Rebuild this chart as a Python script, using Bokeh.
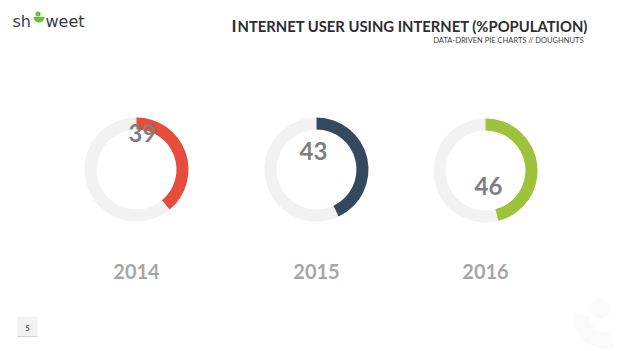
import math
from bokeh.plotting import figure
from bokeh.models import Range1d
from bokeh.core.properties import value
from bokeh.embed import file_html
from bokeh.resources import INLINE

# ---- data ----
years = ["2014", "2015", "2016"]
shares = [39, 43, 46]
colors = ["#e74c3c", "#34495e", "#9dc23b"]
title_text = "INTERNET USER USING INTERNET (%POPULATION)"
subtitle_text = "DATA-DRIVEN PIE CHARTS // DOUGHNUTS"
page_label = "5"

# ---- layout ----
W, H = 624, 351
def Y(py):
    return H - py

cx = [136, 316, 485]
cy = [Y(169), Y(169), Y(170)]
lbl_x = [142, 313, 488]
lbl_y = [Y(132), Y(150), Y(185)]
year_y = Y(271)
R_OUT, R_IN = 52, 40

p = figure(width=W, height=H, x_range=Range1d(0, W), y_range=Range1d(0, H),
           output_backend="svg", toolbar_location=None, min_border=0)
p.axis.visible = False
p.grid.visible = False
p.outline_line_color = None
p.background_fill_color = "white"
p.border_fill_color = "white"

# background rings
p.annulus(x=cx, y=cy, inner_radius=R_IN, outer_radius=R_OUT,
          fill_color="#f2f2f2", line_color=None)
# value arcs (clockwise from top)
start = [math.pi / 2] * len(shares)
end = [math.pi / 2 - 2 * math.pi * v / 100 for v in shares]
p.annular_wedge(x=cx, y=cy, inner_radius=R_IN, outer_radius=R_OUT,
                start_angle=start, end_angle=end, direction="clock",
                fill_color=colors, line_color=None)

# value labels
p.text(x=lbl_x, y=lbl_y, text=[str(v) for v in shares], text_align="center",
       text_baseline="middle", text_font=value("Lato"), text_font_style="bold",
       text_font_size="24px", text_color="#7f7f7f")
# year labels
p.text(x=cx, y=[year_y] * 3, text=years, text_align="center",
       text_baseline="middle", text_font=value("Lato"), text_font_style="bold",
       text_font_size="20px", text_color="#a6a6a6")

# title (small caps emulation)
p.text(x=[231], y=[Y(25)], text=[title_text[0]], text_align="left",
       text_baseline="alphabetic", text_font=value("Lato"), text_font_style="bold",
       text_font_size="17px", text_color="#2e2e2e")
p.text(x=[237], y=[Y(25)], text=[title_text[1:]], text_align="left",
       text_baseline="alphabetic", text_font=value("Lato"), text_font_style="bold",
       text_font_size="14.8px", text_color="#2e2e2e")
# subtitle
p.text(x=[583], y=[Y(40)], text=[subtitle_text], text_align="right",
       text_baseline="middle", text_font=value("Lato"),
       text_font_size="7.5px", text_color="#404040")

# logo
p.text(x=[12], y=[Y(21)], text=["sh"], text_align="left", text_baseline="alphabetic",
       text_font=value("DejaVu Sans"), text_font_size="16px", text_color="#363c44")
p.wedge(x=[38.5], y=[Y(16.5)], radius=5.5, start_angle=math.pi, end_angle=2 * math.pi,
        fill_color="#6cbf3c", line_color=None)
p.circle(x=[37.5], y=[Y(13.5)], radius=2.6, fill_color="#6cbf3c", line_color=None)
p.text(x=[45], y=[Y(21)], text=["weet"], text_align="left", text_baseline="alphabetic",
       text_font=value("DejaVu Sans"), text_font_size="16px", text_color="#363c44")

# page number box
p.quad(left=[17], right=[37], bottom=[Y(336)], top=[Y(316)],
       fill_color="#f2f2f2", line_color=None)
p.segment(x0=[17], x1=[37], y0=[Y(336)], y1=[Y(336)], line_color="#d0d0d0", line_width=1)
p.text(x=[27], y=[Y(327)], text=[page_label], text_align="center", text_baseline="middle",
       text_font=value("Lato"), text_font_style="bold", text_font_size="7px",
       text_color="#404040")

# faint watermark bottom-right
p.annular_wedge(x=[604], y=[Y(318)], inner_radius=14, outer_radius=30,
                start_angle=math.pi * 0.95, end_angle=math.pi * 1.6,
                fill_color="#fafafa", line_color=None)
p.circle(x=[600], y=[Y(308)], radius=10, fill_color="#fafafa", line_color=None)

open("out.html", "w").write(file_html(p, INLINE))
